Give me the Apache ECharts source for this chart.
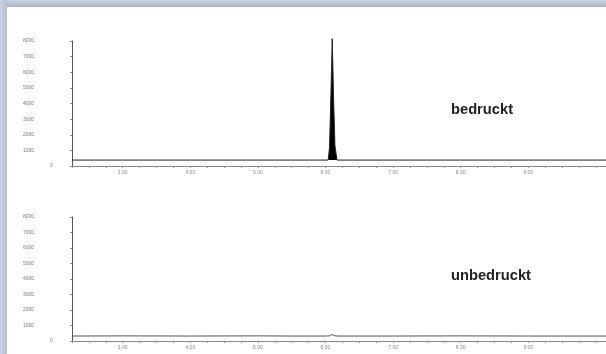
<!DOCTYPE html>
<html><head><meta charset="utf-8">
<script src="https://cdn.jsdelivr.net/npm/echarts@6/dist/echarts.min.js"></script>
<style>html,body{margin:0;padding:0;background:#fff}#c{width:606px;height:354px}</style>
</head><body><div id="c"></div>
<script>
// Data
const timesTop = [2.25, 3.0, 4.0, 5.0, 5.9, 6.04, 6.06, 6.08, 6.10, 6.12, 6.14, 6.17, 7.0, 8.0, 9.0, 10.15];
const countsTop = [380, 380, 380, 380, 380, 380, 1200, 4500, 8150, 4300, 1300, 380, 380, 380, 380, 380];
const timesBottom = [2.25, 3.0, 4.0, 5.0, 5.5, 6.0, 6.06, 6.10, 6.14, 6.2, 7.0, 8.0, 9.0, 10.15];
const countsBottom = [320, 330, 320, 330, 320, 320, 330, 420, 330, 320, 320, 330, 320, 320];
const yTicks = [0, 1000, 2000, 3000, 4000, 5000, 6000, 7000, 8000];
const xLabels = ['3.00', '4.00', '5.00', '6.00', '7.00', '8.00', '9.00'];
const panelNames = ['bedruckt', 'unbedruckt'];

const chart = echarts.init(document.getElementById('c'), null, {renderer: 'canvas'});
const grids = [
  {left: 72, top: 41, right: 0, height: 125},
  {left: 72, top: 217, right: 0, height: 124}
];
function xAxis(i) {
  return {
    type: 'value', gridIndex: i, min: 2.25, max: 10.15, interval: 0.25,
    axisLine: {show: true, lineStyle: {color: '#888', width: 1}},
    axisTick: {show: true, length: 2, lineStyle: {color: '#999'}},
    splitLine: {show: false},
    axisLabel: {
      fontSize: 5, color: '#888', margin: 4, fontFamily: 'Liberation Sans', showMaxLabel: false,
      formatter: v => { const r = Math.round(v); if (Math.abs(v - r) < 1e-6 && xLabels.includes(r.toFixed(2))) return r.toFixed(2); return ''; }
    }
  };
}
function yAxis(i) {
  return {
    type: 'value', gridIndex: i, min: 0, max: 8000, interval: 1000,
    axisLine: {show: true, lineStyle: {color: '#555', width: 1}},
    axisTick: {show: true, length: 2, lineStyle: {color: '#888'}},
    splitLine: {show: false},
    axisLabel: {
      fontSize: 5, color: '#777', margin: 49, align: 'left', fontFamily: 'Liberation Sans',
      formatter: v => yTicks.includes(v) ? (v === 0 ? '{z|0}' : String(v)) : '',
      rich: {z: {fontSize: 5, color: '#777', padding: [0, 0, 0, 27]}}
    }
  };
}
const seriesData = [timesTop.map((t, k) => [t, countsTop[k]]), timesBottom.map((t, k) => [t, countsBottom[k]])];
chart.setOption({
  backgroundColor: '#fff',
  animation: false,
  grid: grids,
  xAxis: [xAxis(0), xAxis(1)],
  yAxis: [yAxis(0), yAxis(1)],
  series: [
    {type: 'line', xAxisIndex: 0, yAxisIndex: 0, data: seriesData[0], symbol: 'none', clip: false,
     lineStyle: {color: '#222', width: 1}, areaStyle: {color: '#000', opacity: 1, origin: 380}},
    {type: 'line', xAxisIndex: 1, yAxisIndex: 1, data: seriesData[1], symbol: 'none', clip: false,
     lineStyle: {color: '#555', width: 1}}
  ],
  graphic: [
    {type: 'rect', left: 0, top: 0, shape: {width: 606, height: 7}, style: {fill: new echarts.graphic.LinearGradient(0, 0, 0, 1, [{offset: 0, color: '#cbd4e3'}, {offset: 1, color: '#a8b3c7'}])}, z: 100},
    {type: 'rect', left: 0, top: 0, shape: {width: 7, height: 354}, style: {fill: new echarts.graphic.LinearGradient(0, 0, 1, 0, [{offset: 0, color: '#c9d3e4'}, {offset: 1, color: '#b4c0d4'}])}, z: 100},
    {type: 'text', left: 451, top: 102, style: {text: panelNames[0], font: 'bold 14.7px "Liberation Sans"', fill: '#222'}},
    {type: 'text', left: 451, top: 268, style: {text: panelNames[1], font: 'bold 14.7px "Liberation Sans"', fill: '#222'}}
  ]
});
</script></body></html>
